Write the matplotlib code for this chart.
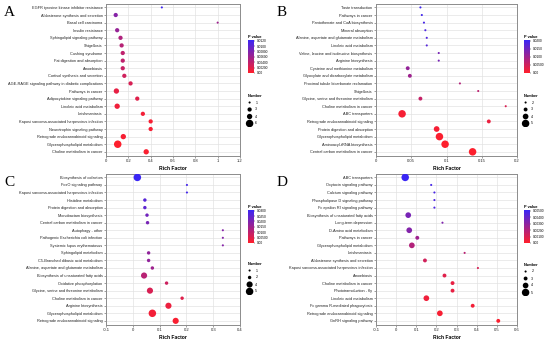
import numpy as np
import matplotlib
matplotlib.use("Agg")
import matplotlib.pyplot as plt
from matplotlib.colors import LinearSegmentedColormap, Normalize
from matplotlib.colorbar import ColorbarBase

plt.rcParams['font.family'] = ['Liberation Sans', 'DejaVu Sans']

# ---- panel A ----
terms_a = ["EGFR tyrosine kinase inhibitor resistance", "Aldosterone synthesis and secretion",
           "Basal cell carcinoma", "Insulin resistance", "Sphingolipid signaling pathway",
           "Shigellosis", "Cushing syndrome", "Fat digestion and absorption", "Amoebiasis",
           "Cortisol synthesis and secretion",
           "AGE-RAGE signaling pathway in diabetic complications", "Pathways in cancer",
           "Adipocytokine signaling pathway", "Linoleic acid metabolism", "Leishmaniasis",
           "Kaposi sarcoma-associated herpesvirus infection", "Neurotrophin signaling pathway",
           "Retrograde endocannabinoid signaling", "Glycerophospholipid metabolism",
           "Choline metabolism in cancer"]
rich_a = [0.50, 0.087, 1.0, 0.10, 0.13, 0.14, 0.15, 0.15, 0.15, 0.164,
          0.22, 0.093, 0.28, 0.10, 0.33, 0.40, 0.40, 0.155, 0.105, 0.36]
num_a = [1, 3, 1, 3, 3, 3, 3, 3, 3, 3, 3, 4, 3, 4, 3, 3, 3, 4, 6, 4]
p_a = [0.0120, 0.0075, 0.0060, 0.0065, 0.0050, 0.0045, 0.0040, 0.0040, 0.0035, 0.0030,
       0.0025, 0.0015, 0.0020, 0.0010, 0.0008, 0.0005, 0.0005, 0.0005, 0.0001, 0.0003]
xt_a = [0, 0.2, 0.4, 0.6, 0.8, 1.0, 1.2]
xtl_a = ["0", "0.2", "0.4", "0.6", "0.8", "1", "1.2"]
cbt_a = [0.0120, 0.0100, 0.00800, 0.00600, 0.00400, 0.00200, 0.0]
cbl_a = ["0.0120", "0.0100", "0.00800", "0.00600", "0.00400", "0.00200", "0.00"]
leg_a = [1, 3, 4, 6]

# ---- panel B ----
terms_b = ["Taste transduction", "Pathways in cancer", "Pantothenate and CoA biosynthesis",
           "Mineral absorption", "Alanine, aspartate and glutamate metabolism",
           "Linoleic acid metabolism", "Valine, leucine and isoleucine biosynthesis",
           "Arginine biosynthesis", "Cysteine and methionine metabolism",
           "Glyoxylate and dicarboxylate metabolism", "Proximal tubule bicarbonate reclamation",
           "Shigellosis", "Glycine, serine and threonine metabolism",
           "Choline metabolism in cancer", "ABC transporters",
           "Retrograde endocannabinoid signaling", "Protein digestion and absorption",
           "Glycerophospholipid metabolism", "Aminoacyl-tRNA biosynthesis",
           "Central carbon metabolism in cancer"]
rich_b = [0.063, 0.065, 0.068, 0.070, 0.072, 0.072, 0.089, 0.089, 0.045, 0.048,
          0.119, 0.145, 0.063, 0.184, 0.037, 0.160, 0.086, 0.090, 0.098, 0.137]
num_b = [2, 2, 2, 2, 2, 2, 2, 2, 3, 3, 2, 2, 3, 2, 5, 3, 4, 5, 5, 5]
p_b = [0.0200, 0.0195, 0.0190, 0.0185, 0.0180, 0.0175, 0.0140, 0.0140, 0.0110, 0.0100,
       0.0080, 0.0070, 0.0060, 0.0040, 0.0010, 0.0020, 0.0010, 0.0005, 0.0003, 0.0002]
xt_b = [0, 0.05, 0.10, 0.15, 0.2]
xtl_b = ["0", "0.05", "0.1", "0.15", "0.2"]
cbt_b = [0.0200, 0.0150, 0.0100, 0.00500, 0.0]
cbl_b = ["0.0200", "0.0150", "0.0100", "0.00500", "0.00"]
leg_b = [2, 3, 4, 5]

# ---- panel C ----
terms_c = ["Biosynthesis of cofactors", "FoxO signaling pathway",
           "Kaposi sarcoma-associated herpesvirus infection", "Histidine metabolism",
           "Protein digestion and absorption", "Monobactam biosynthesis",
           "Central carbon metabolism in cancer", "Autophagy - other",
           "Pathogenic Escherichia coli infection", "Systemic lupus erythematosus",
           "Sphingolipid metabolism", "C5-Branched dibasic acid metabolism",
           "Alanine, aspartate and glutamate metabolism",
           "Biosynthesis of unsaturated fatty acids", "Oxidative phosphorylation",
           "Glycine, serine and threonine metabolism", "Choline metabolism in cancer",
           "Arginine biosynthesis", "Glycerophospholipid metabolism",
           "Retrograde endocannabinoid signaling"]
rich_c = [0.017, 0.202, 0.202, 0.045, 0.045, 0.053, 0.055, 0.336, 0.336, 0.336,
          0.059, 0.059, 0.073, 0.042, 0.126, 0.064, 0.184, 0.133, 0.073, 0.160]
num_c = [5, 1, 1, 2, 2, 2, 2, 1, 1, 1, 2, 2, 2, 4, 2, 4, 2, 4, 5, 4]
p_c = [0.0310, 0.0290, 0.0290, 0.0260, 0.0250, 0.0220, 0.0210, 0.0190, 0.0190, 0.0190,
       0.0170, 0.0170, 0.0150, 0.0110, 0.0080, 0.0060, 0.0050, 0.0030, 0.0020, 0.0010]
xt_c = [-0.1, 0, 0.1, 0.2, 0.3, 0.4]
xtl_c = ["-0.1", "0", "0.1", "0.2", "0.3", "0.4"]
cbt_c = [0.0300, 0.0250, 0.0200, 0.0150, 0.0100, 0.00500, 0.0]
cbl_c = ["0.0300", "0.0250", "0.0200", "0.0150", "0.0100", "0.00500", "0.00"]
leg_c = [1, 2, 4, 5]

# ---- panel D ----
terms_d = ["ABC transporters", "Oxytocin signaling pathway", "Calcium signaling pathway",
           "Phospholipase D signaling pathway", "Fc epsilon RI signaling pathway",
           "Biosynthesis of unsaturated fatty acids", "Long-term depression",
           "D-Amino acid metabolism", "Pathways in cancer", "Glycerophospholipid metabolism",
           "Leishmaniasis", "Aldosterone synthesis and secretion",
           "Kaposi sarcoma-associated herpesvirus infection", "Amoebiasis",
           "Choline metabolism in cancer", "Phototransduction - fly",
           "Linoleic acid metabolism", "Fc gamma R-mediated phagocytosis",
           "Retrograde endocannabinoid signaling", "GnRH signaling pathway"]
rich_d = [0.045, 0.174, 0.19, 0.19, 0.19, 0.060, 0.23, 0.065, 0.105, 0.078,
          0.34, 0.143, 0.406, 0.24, 0.28, 0.28, 0.15, 0.38, 0.217, 0.507]
num_d = [5, 2, 2, 2, 2, 4, 2, 4, 3, 4, 2, 3, 2, 3, 3, 3, 4, 3, 4, 3]
p_d = [0.0053, 0.0048, 0.0047, 0.0046, 0.0046, 0.0035, 0.0033, 0.0032, 0.0025, 0.0020,
       0.0018, 0.0012, 0.0010, 0.0008, 0.0006, 0.0006, 0.0004, 0.0003, 0.0002, 0.0001]
xt_d = [-0.1, 0, 0.1, 0.2, 0.3, 0.4, 0.5, 0.6]
xtl_d = ["-0.1", "0", "0.1", "0.2", "0.3", "0.4", "0.5", "0.6"]
cbt_d = [0.00500, 0.00400, 0.00300, 0.00200, 0.00100, 0.0]
cbl_d = ["0.00500", "0.00400", "0.00300", "0.00200", "0.00100", "0.00"]
leg_d = [2, 3, 4, 5]

W, H = 550, 340
cmap = LinearSegmentedColormap.from_list("pv", ["#FF1F2B", "#3A26F5"])


def rect(x0, y0, x1, y1):
    # pixel box (top-left origin) -> figure fraction
    return [x0 / W, 1 - y1 / H, (x1 - x0) / W, (y1 - y0) / H]


def msize(n, nmin, nmax):
    d = 1.5 + (n - nmin) / (nmax - nmin) * 3.9
    return d ** 2


def panel(fig, letter, lx, ly, box, terms, rich, num, pv, xt, xtl, cbt, cbl, leg, cbx, cby, legy):
    ax = fig.add_axes(rect(*box))
    y = np.arange(len(terms))
    nmin, nmax = min(leg), max(leg)
    vmax = cbt[0] * 1.02
    norm = Normalize(0, vmax)
    ax.scatter(rich, y, s=[msize(n, nmin, nmax) for n in num], c=pv, cmap=cmap,
               norm=norm, linewidths=0, zorder=3)
    ax.set_ylim(len(terms) - 0.45, -0.45)
    ax.set_xlim(xt[0], xt[-1])
    ax.set_yticks(y)
    ax.set_yticklabels(terms, fontsize=2.75)
    ax.set_xticks(xt)
    ax.set_xticklabels(xtl, fontsize=3)
    ax.tick_params(length=1.5, width=0.4, pad=1, colors="#555555", labelcolor="#222222")
    ax.grid(True, color="#e0e0e0", linewidth=0.45)
    ax.set_axisbelow(True)
    for sp in ax.spines.values():
        sp.set_color("#8c8c8c")
        sp.set_linewidth(0.7)
    ax.set_xlabel("Rich Factor", fontsize=3.6, fontweight="bold", labelpad=1.5)
    fig.text(lx / W, 1 - ly / H, letter, fontsize=11, family="Liberation Serif",
             va="top", ha="left")

    # colour bar
    cax = fig.add_axes(rect(cbx, cby, cbx + 6, cby + 33))
    cb = ColorbarBase(cax, cmap=cmap, norm=norm)
    cb.set_ticks(cbt)
    cb.set_ticklabels(cbl)
    cb.outline.set_visible(False)
    cax.tick_params(labelsize=2.3, length=1, width=0.3, pad=0.8)
    fig.text(cbx / W, 1 - (cby - 2) / H, "P value", fontsize=2.8, fontweight="bold")

    # size legend
    fig.text(cbx / W, 1 - (legy - 2) / H, "Number", fontsize=2.8, fontweight="bold")
    lax = fig.add_axes(rect(cbx - 3, legy, cbx + 20, legy + 28))
    lax.set_xlim(0, 1)
    lax.set_ylim(len(leg) - 0.5, -0.5)
    lax.axis("off")
    ly_ = np.arange(len(leg))
    lax.scatter([0.2] * len(leg), ly_, s=[msize(n, nmin, nmax) for n in leg],
                color="black", linewidths=0)
    for i, n in enumerate(leg):
        lax.text(0.45, i, str(n), fontsize=2.6, va="center")
    return ax


fig = plt.figure(figsize=(5.5, 3.4), dpi=100)
panel(fig, "A", 4, 6, (106, 4, 240, 156), terms_a, rich_a, num_a, p_a, xt_a, xtl_a,
      cbt_a, cbl_a, leg_a, 248, 40, 99)
panel(fig, "B", 277, 6, (376, 4, 517, 156), terms_b, rich_b, num_b, p_b, xt_b, xtl_b,
      cbt_b, cbl_b, leg_b, 524, 40, 99)
panel(fig, "C", 4, 176, (106, 174, 240, 325), terms_c, rich_c, num_c, p_c, xt_c, xtl_c,
      cbt_c, cbl_c, leg_c, 248, 210, 267)
panel(fig, "D", 277, 176, (376, 174, 517, 325), terms_d, rich_d, num_d, p_d, xt_d, xtl_d,
      cbt_d, cbl_d, leg_d, 524, 210, 268)

fig.savefig("out.png", dpi=100)
